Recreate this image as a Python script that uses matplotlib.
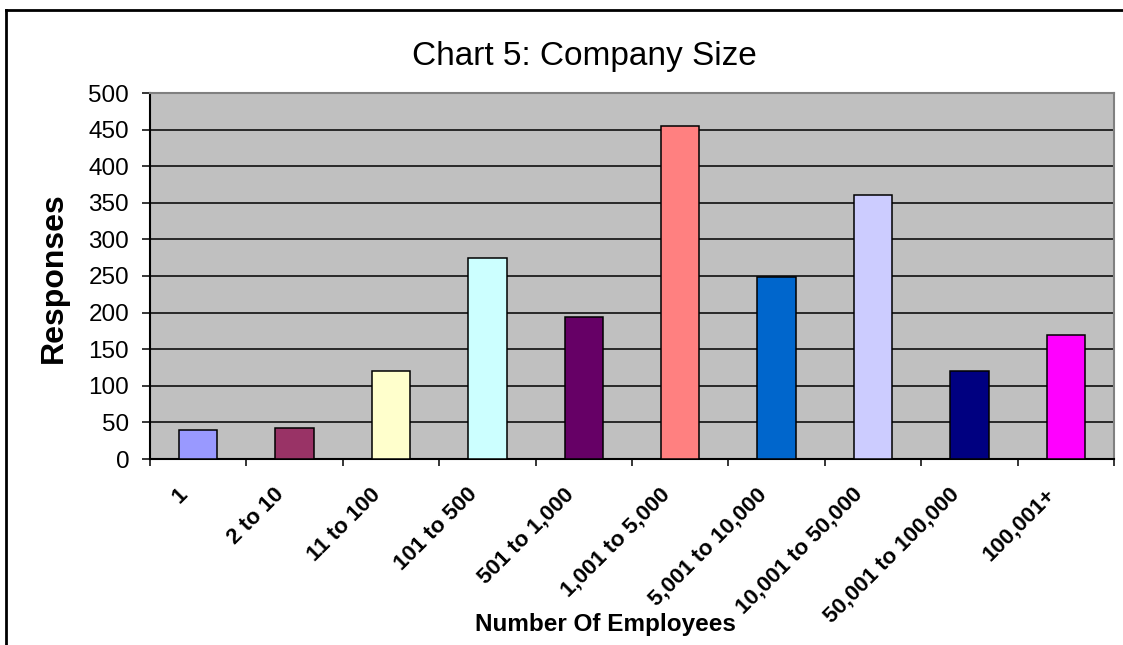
import matplotlib
matplotlib.use('Agg')
import matplotlib.pyplot as plt
import matplotlib.transforms as mtransforms
from matplotlib.lines import Line2D
import numpy as np

# Datos del gráfico
categories = ['1', '2 to 10', '11 to 100', '101 to 500', '501 to 1,000',
              '1,001 to 5,000', '5,001 to 10,000', '10,001 to 50,000',
              '50,001 to 100,000', '100,001+']
responses = [39, 42, 120, 275, 194, 455, 248, 360, 120, 169]
bar_colors = ['#9999FF', '#993366', '#FFFFCC', '#CCFFFF', '#660066',
              '#FF8080', '#0066CC', '#CCCCFF', '#000080', '#FF00FF']
yticks = [0, 50, 100, 150, 200, 250, 300, 350, 400, 450, 500]

plt.rcParams['font.family'] = ['Liberation Sans', 'DejaVu Sans']

fig = plt.figure(figsize=(11.23, 6.45), dpi=100)
ax = fig.add_axes([150 / 1123, 1 - 459 / 645, 964 / 1123, 366 / 645])

# Fondo gris estilo Excel
ax.set_facecolor('#C0C0C0')
x = np.arange(len(categories))
ax.bar(x, responses, width=0.4, color=bar_colors, edgecolor='black',
       linewidth=1.1, zorder=3)

ax.set_xlim(-0.5, len(categories) - 0.5)
ax.set_ylim(0, 500)
ax.set_yticks(yticks)
ax.yaxis.grid(True, color='black', linewidth=1.1, zorder=1)
ax.set_axisbelow(True)

for lab in ax.get_yticklabels():
    lab.set_fontsize(17.5)
ax.tick_params(axis='y', direction='out', length=6, width=1.1, pad=9)

# Ticks entre categorías
ax.set_xticks(x)
ax.set_xticks(np.arange(-0.5, len(categories)), minor=True)
ax.tick_params(axis='x', which='major', length=0, pad=18)
ax.tick_params(axis='x', which='minor', direction='out', length=5, width=1.1)
ax.set_xticklabels(categories, rotation=45, ha='right', va='top',
                   fontsize=16, fontweight='bold')
offset = mtransforms.ScaledTranslation(-6 / 100, 0, fig.dpi_scale_trans)
for lab in ax.get_xticklabels():
    lab.set_transform(lab.get_transform() + offset)

ax.spines['left'].set_color('black')
ax.spines['left'].set_linewidth(1.5)
ax.spines['bottom'].set_color('black')
ax.spines['bottom'].set_linewidth(1.5)
ax.spines['top'].set_color('#808080')
ax.spines['top'].set_linewidth(1.5)
ax.spines['right'].set_color('#808080')
ax.spines['right'].set_linewidth(1.5)

fig.text(584 / 1123, 1 - 56 / 645, 'Chart 5: Company Size', ha='center',
         va='center', fontsize=24)
fig.text(54 / 1123, 1 - 278 / 645, 'Responses', rotation=90, ha='center',
         va='center', fontsize=23, fontweight='bold')
fig.text(605 / 1123, 1 - 624 / 645, 'Number Of Employees', ha='center',
         va='center', fontsize=17.5, fontweight='bold')

# Marco exterior del gráfico
fig.add_artist(Line2D([6 / 1123, 6 / 1123], [0, 1 - 10 / 645], color='black',
                      linewidth=2, transform=fig.transFigure))
fig.add_artist(Line2D([6 / 1123, 1], [1 - 10 / 645, 1 - 10 / 645], color='black',
                      linewidth=2, transform=fig.transFigure))

fig.savefig('out.png', dpi=100, facecolor='white')
